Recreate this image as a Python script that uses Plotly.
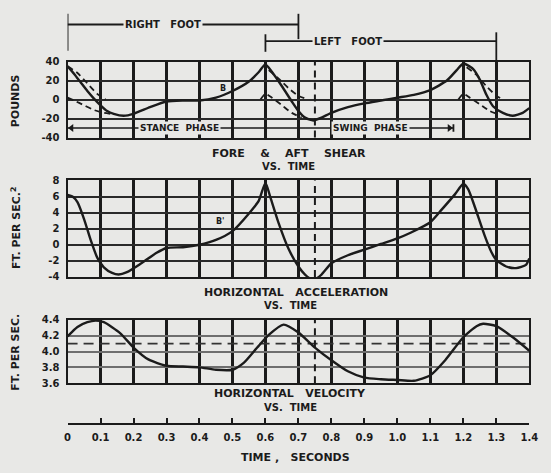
import plotly.graph_objects as go

# ---------------- data ----------------
time_ticks = [0.0, 0.1, 0.2, 0.3, 0.4, 0.5, 0.6, 0.7, 0.8, 0.9, 1.0, 1.1, 1.2, 1.3, 1.4]
time_labels = ["0", "0.1", "0.2", "0.3", "0.4", "0.5", "0.6", "0.7", "0.8", "0.9", "1.0", "1.1", "1.2", "1.3", "1.4"]

shear_ticks = [-40, -20, 0, 20, 40]
acc_ticks = [-4, -2, 0, 2, 4, 6, 8]
vel_ticks = [3.6, 3.8, 4.0, 4.2, 4.4]

# fore & aft shear (total), pounds
shear_t = [0.00, 0.02, 0.04, 0.06, 0.08, 0.10, 0.12, 0.14, 0.17, 0.20, 0.25, 0.30, 0.35, 0.40, 0.45,
           0.50, 0.55, 0.58, 0.60, 0.62, 0.65, 0.68, 0.70, 0.72, 0.745, 0.77, 0.80, 0.85, 0.90, 0.95,
           1.00, 1.05, 1.10, 1.15, 1.18, 1.20, 1.23, 1.25, 1.27, 1.29, 1.32, 1.35, 1.38, 1.40]
shear_v = [35, 27, 18, 9, 1, -6, -12, -15, -17, -15, -8, -2, -1, -1, 2,
           9, 19, 29, 37, 29, 14, -2, -12, -19, -22, -19, -14, -8, -4, -1,
           2, 5, 10, 20, 31, 38, 32, 21, 5, -7, -14, -17, -14, -9]

# component curves (dashed): trailing-foot push-off and leading-foot braking
push1_t = [0.00, 0.03, 0.06, 0.09, 0.115]
push1_v = [35, 28, 17, 6, 0]
push2_t = [0.61, 0.64, 0.67, 0.70, 0.73]
push2_v = [31, 22, 12, 4, 0]
push3_t = [1.21, 1.24, 1.27, 1.30, 1.32]
push3_v = [34, 26, 14, 4, 0]

brake1_t = [0.00, 0.02, 0.05, 0.08, 0.11, 0.13]
brake1_v = [2, -1, -6, -11, -14, -15]
brake2_t = [0.585, 0.60, 0.62, 0.65, 0.68, 0.71]
brake2_v = [0, 6, 2, -6, -14, -19]
brake3_t = [1.185, 1.20, 1.22, 1.25, 1.28, 1.31]
brake3_v = [0, 6, 2, -5, -12, -16]

# horizontal acceleration, ft/sec^2
acc_t = [0.00, 0.015, 0.03, 0.05, 0.07, 0.09, 0.11, 0.135, 0.155, 0.18, 0.22, 0.27, 0.30, 0.35, 0.40,
         0.45, 0.50, 0.55, 0.58, 0.60, 0.615, 0.64, 0.67, 0.70, 0.72, 0.745, 0.77, 0.80, 0.85, 0.90,
         0.95, 1.00, 1.04, 1.10, 1.135, 1.175, 1.20, 1.215, 1.235, 1.265, 1.285, 1.30, 1.33, 1.36, 1.39, 1.40]
acc_v = [6.2, 6.0, 5.3, 3.2, 0.6, -1.6, -2.8, -3.5, -3.7, -3.4, -2.4, -1.0, -0.4, -0.3, 0.0,
         0.6, 1.7, 3.9, 5.5, 7.7, 5.9, 2.7, -0.5, -2.7, -3.7, -4.4, -3.7, -2.3, -1.3, -0.6,
         0.1, 0.8, 1.5, 2.8, 4.4, 6.3, 7.6, 6.9, 4.7, 1.1, -0.9, -1.9, -2.7, -2.9, -2.5, -1.7]

# horizontal velocity, ft/sec
vel_t = [0.00, 0.03, 0.06, 0.085, 0.11, 0.16, 0.20, 0.245, 0.30, 0.35, 0.40, 0.45, 0.50, 0.535, 0.575,
         0.61, 0.655, 0.70, 0.75, 0.80, 0.85, 0.90, 0.95, 1.00, 1.05, 1.10, 1.145, 1.20, 1.24, 1.26,
         1.30, 1.35, 1.40]
vel_v = [4.19, 4.31, 4.37, 4.39, 4.37, 4.23, 4.05, 3.90, 3.82, 3.81, 3.80, 3.77, 3.77, 3.86, 4.05,
         4.21, 4.34, 4.24, 4.05, 3.89, 3.75, 3.67, 3.65, 3.64, 3.63, 3.70, 3.89, 4.18, 4.32, 4.35,
         4.32, 4.18, 4.01]
vel_mean = 4.1

# events
double_support_mark = 0.75
right_foot = [0.0, 0.7]
left_foot = [0.6, 1.3]
stance_phase = [0.0, 0.72]
swing_phase = [0.72, 1.17]
stance_level = -30

# ---------------- styling ----------------
W, H = 551, 473
BG = "#e8e8e6"
INK = "#1b1b1b"
FONT = "DejaVu Sans"


def py(p):
    return 1 - p / H


XDOM = [66 / W, 538 / W]
fig = go.Figure()

line_main = dict(color=INK, width=2.4, shape="spline", smoothing=0.6)
line_dash = dict(color=INK, width=1.8, dash="6px,4px", shape="spline", smoothing=0.6)

fig.add_trace(go.Scatter(x=shear_t, y=shear_v, mode="lines", line=line_main, xaxis="x", yaxis="y"))
for tt, vv in [(push1_t, push1_v), (push2_t, push2_v), (push3_t, push3_v),
               (brake1_t, brake1_v), (brake2_t, brake2_v), (brake3_t, brake3_v)]:
    fig.add_trace(go.Scatter(x=tt, y=vv, mode="lines", line=line_dash, xaxis="x", yaxis="y"))
# phase arrowheads
fig.add_trace(go.Scatter(x=[stance_phase[0] + 0.012], y=[stance_level], mode="markers",
                         marker=dict(symbol="triangle-left", size=7, color=INK), xaxis="x", yaxis="y"))
fig.add_trace(go.Scatter(x=[swing_phase[1] - 0.012], y=[stance_level], mode="markers",
                         marker=dict(symbol="triangle-right", size=7, color=INK), xaxis="x", yaxis="y"))
fig.add_trace(go.Scatter(x=acc_t, y=acc_v, mode="lines", line=line_main, xaxis="x2", yaxis="y2"))
fig.add_trace(go.Scatter(x=[0, 1.4], y=[vel_mean, vel_mean], mode="lines",
                         line=dict(color="#333", width=1.6, dash="10px,6px"), xaxis="x3", yaxis="y3"))
fig.add_trace(go.Scatter(x=vel_t, y=vel_v, mode="lines", line=line_main, xaxis="x3", yaxis="y3"))
fig.add_trace(go.Scatter(x=[0, 1.4], y=[0, 0], mode="markers", marker=dict(opacity=0),
                         xaxis="x4", yaxis="y4", hoverinfo="skip"))

xcommon = dict(range=[0, 1.4], domain=XDOM, tickvals=time_ticks, showticklabels=False,
               showgrid=True, gridcolor=INK, gridwidth=2.6, showline=True, mirror=True,
               linecolor=INK, linewidth=2.2, zeroline=False, ticks="")
ycommon = dict(showgrid=True, gridcolor="#2a2a2a", gridwidth=1.5, showline=True, mirror=True,
               linecolor=INK, linewidth=2.2, zeroline=False, ticks="",
               tickfont=dict(family=FONT, size=10, color=INK), ticklabelstandoff=4)

tickfmt = lambda vals, fmt: [("<b>" + fmt(v) + "</b>") for v in vals]

fig.update_layout(
    width=W, height=H, margin=dict(l=0, r=0, t=0, b=0),
    paper_bgcolor=BG, plot_bgcolor=BG, showlegend=False,
    xaxis=dict(xcommon, anchor="y"),
    xaxis2=dict(xcommon, anchor="y2"),
    xaxis3=dict(xcommon, anchor="y3"),
    xaxis4=dict(range=[0, 1.4], domain=XDOM, anchor="y4", tickvals=time_ticks,
                ticktext=["<b>" + s + "</b>" for s in time_labels], showgrid=False, showline=True,
                linecolor=INK, linewidth=1.6, ticks="inside", ticklen=5, tickwidth=2, tickcolor=INK,
                zeroline=False, tickfont=dict(family=FONT, size=10, color=INK), ticklabelstandoff=4),
    yaxis=dict(ycommon, range=[-40, 40], domain=[py(135), py(57)], anchor="x", tickvals=shear_ticks,
               ticktext=tickfmt(shear_ticks, lambda v: f"{v}")),
    yaxis2=dict(ycommon, range=[-4, 8], domain=[py(278), py(179)], anchor="x2", tickvals=acc_ticks,
                ticktext=tickfmt(acc_ticks, lambda v: f"{v}")),
    yaxis3=dict(ycommon, range=[3.6, 4.4], domain=[py(387), py(322)], anchor="x3", tickvals=vel_ticks,
                ticktext=tickfmt(vel_ticks, lambda v: f"{v:.1f}"), gridcolor="#6e6e6e", gridwidth=2.2),
    yaxis4=dict(range=[0, 1], domain=[py(428), py(420)], anchor="x4", visible=False),
)

shapes = []
# dashed vertical marker in each panel
for yr in ["y domain", "y2 domain", "y3 domain"]:
    shapes.append(dict(type="line", xref="x", yref=yr, x0=double_support_mark, x1=double_support_mark,
                       y0=0, y1=1, line=dict(color=INK, width=2, dash="7px,5px")))
# foot brackets
bw = dict(color=INK, width=1.8)
shapes += [
    dict(type="line", xref="x", yref="paper", x0=right_foot[0], x1=right_foot[0], y0=py(46), y1=py(8), line=bw),
    dict(type="line", xref="x", yref="paper", x0=right_foot[0], x1=right_foot[1], y0=py(19), y1=py(19), line=bw),
    dict(type="line", xref="x", yref="paper", x0=right_foot[1], x1=right_foot[1], y0=py(34), y1=py(8), line=bw),
    dict(type="line", xref="x", yref="paper", x0=left_foot[0], x1=left_foot[0], y0=py(47), y1=py(29), line=bw),
    dict(type="line", xref="x", yref="paper", x0=left_foot[0], x1=left_foot[1], y0=py(36), y1=py(36), line=bw),
    dict(type="line", xref="x", yref="paper", x0=left_foot[1], x1=left_foot[1], y0=py(56), y1=py(27), line=bw),
]
# phase arrows
shapes += [
    dict(type="line", xref="x", yref="y", x0=stance_phase[0], x1=stance_phase[1], y0=stance_level,
         y1=stance_level, line=dict(color=INK, width=1.5)),
    dict(type="line", xref="x", yref="y", x0=swing_phase[0], x1=swing_phase[1], y0=stance_level,
         y1=stance_level, line=dict(color=INK, width=1.5)),
    dict(type="line", xref="x", yref="y", x0=swing_phase[1], x1=swing_phase[1], y0=stance_level - 4,
         y1=stance_level + 4, line=dict(color=INK, width=1.8)),
]
fig.update_layout(shapes=shapes)


def txt(x, y, s, xref="paper", yref="paper", size=10, bg=None, angle=0):
    d = dict(x=x, y=y, xref=xref, yref=yref, text="<b>" + s + "</b>", showarrow=False,
             xanchor="center", yanchor="middle",
             font=dict(family=FONT, size=size, color=INK), textangle=angle)
    if bg:
        d.update(bgcolor=bg, borderpad=1)
    return d


N = "\u00a0"
ann = [
    txt(0.29, py(19), "RIGHT" + N * 3 + "FOOT", xref="x", bg=BG),
    txt(0.85, py(36), "LEFT" + N * 3 + "FOOT", xref="x", bg=BG),
    txt(0.34, stance_level, "STANCE" + N * 2 + "PHASE", xref="x", yref="y", size=9, bg=BG),
    txt(0.92, stance_level, "SWING" + N * 2 + "PHASE", xref="x", yref="y", size=9, bg=BG),
    txt(0.47, 12, "B", xref="x", yref="y", size=8),
    txt(0.465, 2.9, "B'", xref="x2", yref="y2", size=8),
    txt(292 / W, py(151), "FORE" + N * 4 + "&" + N * 4 + "AFT" + N * 4 + "SHEAR", size=11),
    txt(292 / W, py(164.5), "VS." + N * 2 + "TIME", size=10),
    txt(300 / W, py(294), "HORIZONTAL" + N * 3 + "ACCELERATION", size=11),
    txt(294 / W, py(307.5), "VS." + N * 2 + "TIME", size=10),
    txt(293 / W, py(398), "HORIZONTAL" + N * 3 + "VELOCITY", size=11),
    txt(294 / W, py(411.5), "VS." + N * 2 + "TIME", size=10),
    txt(299 / W, py(463), "TIME" + N + "," + N * 3 + "SECONDS", size=11),
    txt(13 / W, py(97), "POUNDS", angle=-90, size=11),
    txt(13 / W, py(228), "FT." + N + "PER" + N + "SEC.<sup>2</sup>", angle=-90, size=11),
    txt(13 / W, py(355), "FT." + N + "PER" + N + "SEC.", angle=-90, size=11),
]
fig.update_layout(annotations=ann)

fig.write_html(
    "out.html",
    config={"displayModeBar": False},
    post_script="document.body.style.margin='0';document.body.style.background='" + BG + "';",
)
